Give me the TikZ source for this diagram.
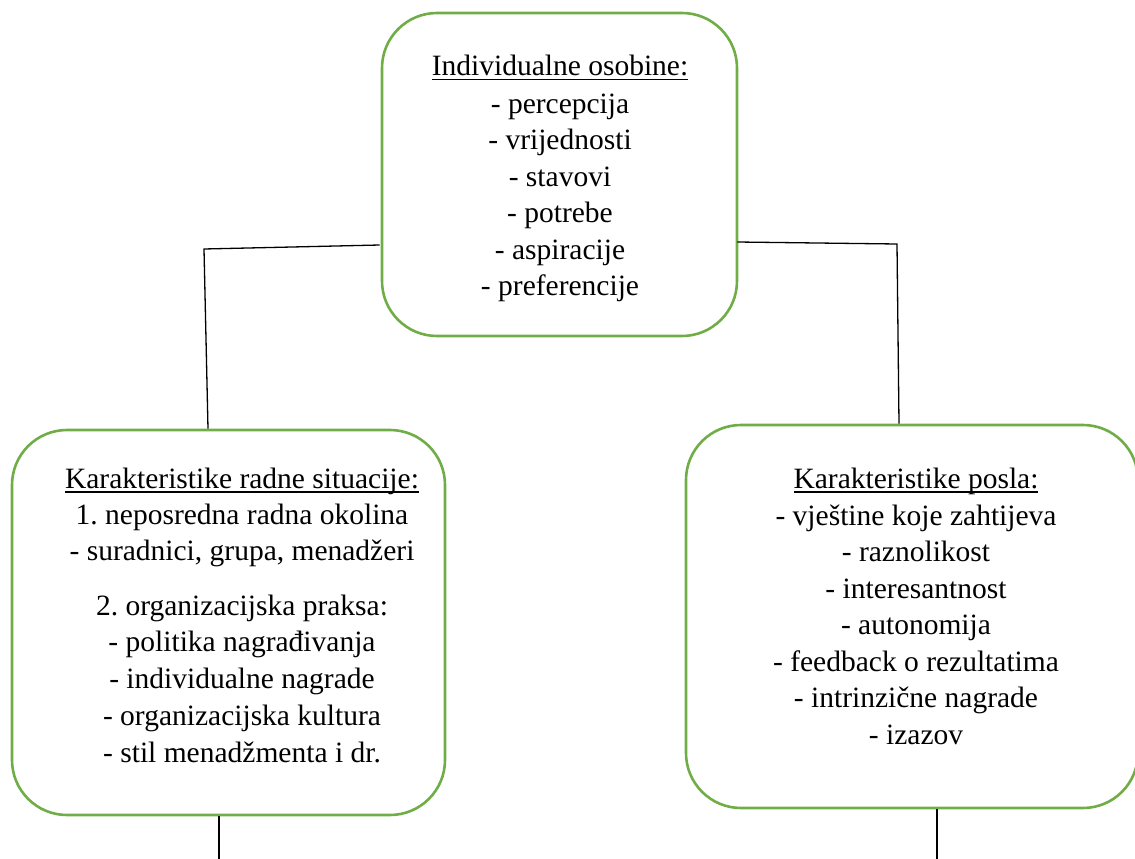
\documentclass[tikz,border=0pt]{standalone}
\usepackage{fontspec}
\IfFontExistsTF{LiberationSerif-Regular.ttf}
  {\setmainfont{LiberationSerif-Regular.ttf}}
  {\setmainfont{Liberation Serif}}
\definecolor{boxgreen}{HTML}{70AD47}
\newcommand\uline[1]{\leavevmode\setbox0\hbox{#1}\rlap{\rule[-4.5pt]{\wd0}{1.6pt}}\box0}
\frenchspacing
\begin{document}
\begin{tikzpicture}[x=1pt,y=-1pt,
  box/.style={draw=boxgreen, line width=2.6pt, rounded corners=55pt, inner sep=0pt},
  txt/.style={font=\fontsize{29.5}{36.5}\selectfont, inner sep=0pt, anchor=base},
  conn/.style={draw=black, line width=1.3pt}]
\useasboundingbox (0,0) rectangle (1135,859);
% boxes
\node[box, minimum width=355pt, minimum height=323pt] (top) at (559.5,174.5) {};
\node[box, minimum width=433pt, minimum height=385pt] (left) at (228.5,622.5) {};
\node[box, minimum width=452pt, minimum height=383pt] (right) at (912,616.5) {};
% top text
\node[txt] (t0) at (560,76) {\uline{Individualne osobine:}};
\node[txt] (t1) at (560,113) {- percepcija};
\node[txt] (t2) at (560,149) {- vrijednosti};
\node[txt] (t3) at (560,186) {- stavovi};
\node[txt] (t4) at (560,222) {- potrebe};
\node[txt] (t5) at (560,259) {- aspiracije};
\node[txt] (t6) at (560,295) {- preferencije};
% left text
\node[txt] (l0) at (242,488) {\uline{Karakteristike radne situacije:}};
\node[txt] (l1) at (242,524) {1. neposredna radna okolina};
\node[txt] (l2) at (242,560) {- suradnici, grupa, menadžeri};
\node[txt] (l3) at (242,615) {2. organizacijska praksa:};
\node[txt] (l4) at (242,651) {- politika nagrađivanja};
\node[txt] (l5) at (242,688) {- individualne nagrade};
\node[txt] (l6) at (242,725) {- organizacijska kultura};
\node[txt] (l7) at (242,762) {- stil menadžmenta i dr.};
% right text
\node[txt] (r0) at (916,488) {\uline{Karakteristike posla:}};
\node[txt] (r1) at (916,525) {- vještine koje zahtijeva};
\node[txt] (r2) at (916,561) {- raznolikost};
\node[txt] (r3) at (916,598) {- interesantnost};
\node[txt] (r4) at (916,634) {- autonomija};
\node[txt] (r5) at (916,671) {- feedback o rezultatima};
\node[txt] (r6) at (916,707) {- intrinzične nagrade};
\node[txt] (r7) at (916,744) {- izazov};
% connectors
\coordinate (lk) at (204,249);
\coordinate (rk) at (897,244);
\coordinate (lb) at (219,859);
\coordinate (rb) at (937,859);
\draw[conn] ([xshift=-1pt,yshift=-70.5pt]top.west) -- (lk) -- ([xshift=-20.5pt]left.north);
\draw[conn] ([xshift=-1pt,yshift=-67.5pt]top.east) -- (rk) -- ([xshift=-13pt]right.north);
\draw[conn] ([xshift=-9.5pt]left.south) -- (lb);
\draw[conn] ([xshift=25pt]right.south) -- (rb);
\end{tikzpicture}
\end{document}
